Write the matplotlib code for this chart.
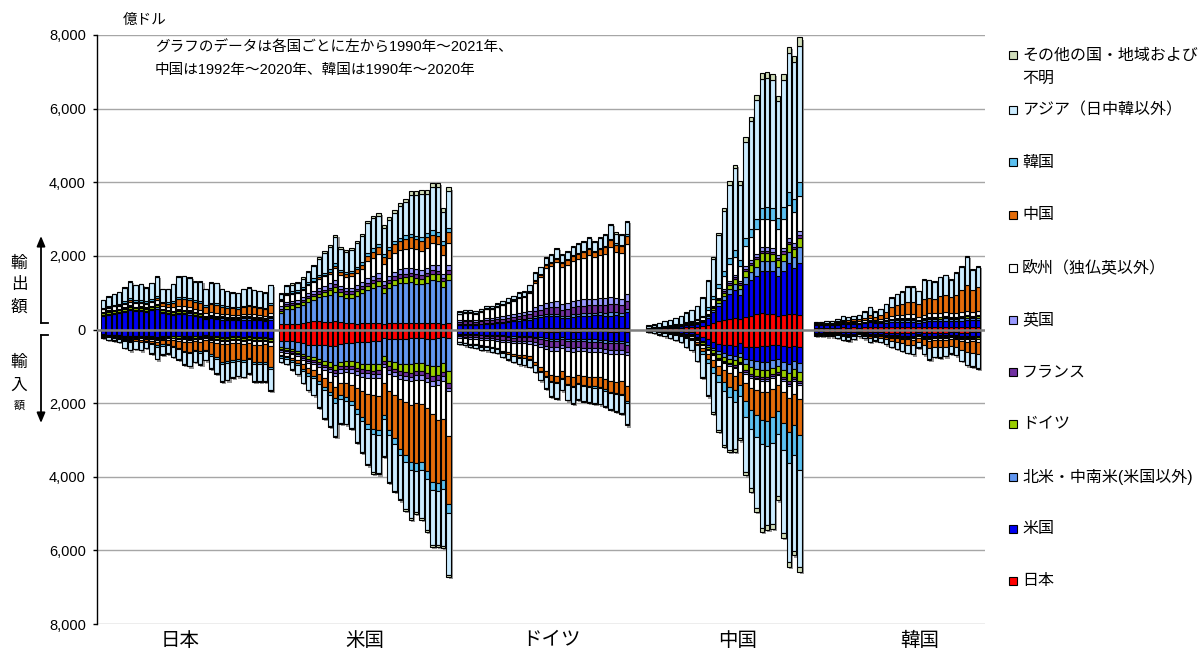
import numpy as np
import matplotlib
matplotlib.use("Agg")
import matplotlib.pyplot as plt
import matplotlib.patheffects as pe
from matplotlib.lines import Line2D
from matplotlib.patches import Rectangle

plt.rcParams["font.family"] = ["Liberation Sans", "Noto Sans CJK JP"]

W, H = 1199, 651

reporters = ["jp", "us", "de", "cn", "kr"]
reporter_names = ["日本", "米国", "ドイツ", "中国", "韓国"]
first_years = [1990, 1990, 1990, 1992, 1990]

partner_keys = ["jp", "us", "am", "de", "fr", "uk", "eu", "cn", "kr", "asia", "oth"]
partner_labels = ["日本", "米国", "北米・中南米(米国以外)", "ドイツ", "フランス", "英国",
                  "欧州（独仏英以外）", "中国", "韓国", "アジア（日中韓以外）",
                  "その他の国・地域および"]
partner_colors = ["#FF0000", "#0000F0", "#6196F0", "#99CC00", "#7030A0", "#9999FF",
                  "#FFFFFF", "#E46C0A", "#5BC0F0", "#CCECFF", "#D0DDBA"]

# 億ドル, x = exports, m = imports (partner order as above; own country omitted)
# Japan 1990-2021
jp_x_us = [370,400,420,440,480,520,490,500,480,520,560,440,420,400,420,410,400,360,340,280,300,280,270,260,250,250,270,270,260,250,230,270]
jp_x_am = [25,27,28,30,33,37,35,35,33,35,40,33,32,33,37,38,38,36,35,28,32,32,30,29,28,28,30,31,30,29,27,32]
jp_x_de = [45,50,52,50,52,58,52,50,48,50,55,45,42,45,50,48,45,40,38,30,35,35,32,30,30,28,30,32,32,30,28,32]
jp_x_fr = [15,17,18,17,18,20,18,18,17,18,20,17,16,17,18,18,17,16,15,12,13,13,12,12,11,11,12,12,12,11,10,12]
jp_x_uk = [22,24,25,24,26,28,26,26,25,26,28,22,20,21,22,22,21,20,18,15,16,16,15,14,14,14,14,15,14,13,12,14]
jp_x_eu = [70,78,82,80,85,95,88,88,85,90,105,85,80,85,100,100,98,92,90,70,78,78,68,66,65,62,68,72,70,66,62,75]
jp_x_cn = [8,10,15,20,30,40,38,40,35,45,60,70,95,130,170,185,190,185,190,180,210,215,190,185,175,170,185,200,190,185,190,230]
jp_x_kr = [30,32,35,38,42,48,45,45,38,45,55,45,45,50,55,55,55,50,48,40,48,48,42,40,38,37,40,42,40,38,36,42]
jp_x_asia = [217,254,280,318,368,450,405,423,374,423,509,332,339,444,560,564,540,497,522,434,538,535,430,409,389,382,440,461,415,423,405,490]
jp_x_oth = [12,13,13,14,15,16,15,15,14,15,16,14,14,15,16,17,17,16,16,14,15,15,14,13,13,13,14,14,13,13,13,15]

jp_m_us = [130,140,140,150,170,180,170,180,170,190,200,180,170,170,170,180,180,170,180,160,180,190,200,200,190,190,200,190,210,210,200,230]
jp_m_am = [10,11,12,13,15,16,15,16,15,17,19,17,16,17,18,20,21,20,21,18,22,24,27,26,25,24,25,24,26,26,25,29]
jp_m_de = [15,17,18,20,25,28,26,27,24,28,32,28,28,32,36,40,42,38,40,36,42,45,50,48,46,45,48,46,50,50,48,55]
jp_m_fr = [6,7,7,8,10,11,10,11,10,12,14,12,12,13,14,15,16,14,15,13,16,17,19,18,17,17,18,17,19,19,18,21]
jp_m_uk = [5,6,6,7,9,10,9,10,9,11,13,11,10,11,12,13,13,12,13,11,13,14,15,15,14,14,14,13,15,15,14,16]
jp_m_eu = [15,18,20,24,35,40,37,40,35,45,55,48,45,52,58,65,68,60,65,58,72,80,92,90,86,85,88,82,95,95,92,110]
jp_m_cn = [3,5,7,12,25,35,35,45,45,70,100,110,120,160,190,240,260,240,260,250,330,380,470,460,440,420,430,390,470,470,480,560]
jp_m_kr = [8,10,11,13,20,24,22,24,20,28,35,30,28,32,35,40,42,36,40,34,44,50,58,56,52,50,52,48,56,56,55,65]
jp_m_asia = [30,61,73,91,181,217,193,208,162,250,334,242,222,253,278,333,348,284,312,249,335,387,479,453,425,415,402,377,469,469,479,566]
jp_m_oth = [4,5,5,6,8,9,8,9,8,10,12,10,10,11,12,13,14,12,13,12,14,16,19,18,17,16,17,16,19,19,18,22]

# United States 1990-2021
us_x_jp = [136,145,150,160,180,215,220,220,200,210,225,195,175,165,160,165,165,165,170,140,165,175,185,180,170,165,165,170,175,170,160,170]
us_x_am = [300,400,420,440,480,540,590,650,700,740,800,710,690,700,760,820,900,950,1000,860,960,1030,1070,1090,1110,1080,1060,1100,1160,1150,990,1170]
us_x_de = [80,85,85,80,85,90,95,100,110,115,120,110,105,110,115,120,130,140,150,130,140,150,155,160,165,165,160,170,180,175,160,180]
us_x_fr = [50,55,55,50,55,60,62,65,70,75,80,72,65,65,70,72,75,80,85,75,80,85,85,88,90,88,85,90,95,95,80,92]
us_x_uk = [70,75,75,75,80,85,90,100,105,110,115,105,100,100,105,110,120,125,130,115,120,130,135,140,145,140,135,140,150,150,125,140]
us_x_eu = [150,180,185,185,190,210,220,240,260,270,330,300,290,300,330,360,460,490,520,460,480,510,520,530,540,540,540,550,580,580,520,600]
us_x_cn = [15,18,22,25,28,30,35,40,45,45,55,65,75,85,95,110,140,165,180,180,210,230,250,270,280,270,270,300,240,220,260,300]
us_x_kr = [40,45,45,45,55,70,75,72,50,65,80,65,65,70,75,80,85,90,95,80,90,95,95,100,105,100,100,105,110,105,100,110]
us_x_asia = [115,174,185,190,227,256,327,439,549,617,708,571,548,563,645,695,813,814,748,726,742,758,853,893,1050,1107,1175,1065,1181,1226,807,991]
us_x_oth = [30,35,35,35,40,45,50,55,55,60,65,60,58,58,60,65,70,75,80,75,80,85,90,95,100,100,100,100,110,110,100,110]

us_m_jp = [300,305,320,340,380,415,410,420,430,435,440,390,370,360,350,350,340,320,300,230,260,250,260,250,240,240,240,245,250,240,215,230]
us_m_am = [180,190,210,235,275,310,335,380,420,460,530,490,490,505,545,575,600,625,630,490,590,640,670,690,710,670,670,710,750,740,690,905]
us_m_de = [55,58,60,62,70,78,82,92,105,112,125,125,130,140,150,160,165,170,175,135,155,175,195,205,220,225,225,240,265,265,255,316]
us_m_fr = [30,32,35,36,40,44,46,52,58,65,75,72,70,75,80,85,90,95,100,82,88,95,100,105,110,110,110,115,125,135,115,140]
us_m_uk = [40,42,45,48,55,60,64,72,80,88,100,95,92,95,102,108,112,118,122,95,105,110,115,120,125,120,120,125,135,135,115,90]
us_m_eu = [80,85,95,105,125,145,160,190,225,260,300,290,300,325,370,405,440,460,480,410,480,520,560,600,640,640,660,700,760,950,1050,1220]
us_m_cn = [30,40,60,80,115,135,160,200,235,265,300,310,380,450,570,690,820,910,930,870,1050,1150,1350,1450,1560,1620,1580,1720,1850,1700,1650,1850]
us_m_kr = [50,52,55,55,62,68,70,72,78,95,115,105,105,110,125,125,130,130,135,120,140,160,170,180,200,210,205,210,220,230,230,230]
us_m_asia = [114,129,205,249,322,386,449,631,774,848,911,660,618,611,765,828,961,1053,1025,1000,1264,1275,1178,1285,1313,1122,1308,1383,1498,1456,1549,1677]
us_m_oth = [8,8,10,11,13,15,16,18,20,23,26,24,24,25,28,30,33,36,38,33,38,40,43,45,48,46,48,52,55,57,57,65]

# Germany 1990-2021
de_x_jp = [20,20,20,18,20,22,22,22,22,22,25,25,25,28,32,35,38,38,40,35,38,42,45,45,45,42,45,48,50,50,45,52]
de_x_us = [110,115,115,110,120,140,140,150,165,180,200,210,220,240,280,300,320,320,320,270,280,300,310,320,330,340,340,330,330,340,330,410]
de_x_am = [20,22,22,20,22,25,25,28,30,32,35,38,40,42,48,52,58,62,65,58,62,68,72,75,80,78,80,82,88,85,80,95]
de_x_fr = [60,62,62,58,62,72,70,75,80,85,90,95,98,110,140,150,170,180,190,180,190,200,200,205,210,200,210,215,230,215,205,230]
de_x_uk = [40,42,42,40,44,50,50,55,62,68,72,78,80,92,115,125,140,145,150,140,150,160,165,170,175,170,175,175,180,175,165,180]
de_x_eu = [170,190,195,185,210,245,245,270,300,330,360,400,410,480,660,770,950,990,1060,1010,1040,1090,1110,1140,1180,1130,1170,1210,1350,1250,1240,1350]
de_x_cn = [5,6,8,10,12,14,15,16,18,20,22,25,28,35,45,55,65,75,85,100,115,130,140,150,160,150,160,180,200,190,190,220]
de_x_kr = [8,8,9,9,10,12,12,12,10,12,14,14,15,18,22,25,28,30,32,28,32,35,35,36,38,36,38,40,42,40,38,45]
de_x_asia = [48,61,53,40,52,61,62,76,88,97,91,113,108,158,192,174,167,186,235,205,207,223,233,241,271,236,271,281,360,260,268,336]
de_x_oth = [8,8,8,8,9,10,10,11,12,13,14,15,16,18,22,24,27,28,30,28,30,32,33,34,35,34,35,36,38,37,36,40]

de_m_jp = [30,32,32,30,32,35,35,35,35,38,40,38,35,38,45,50,55,55,55,45,50,55,55,52,50,48,50,52,55,55,50,55]
de_m_us = [90,95,100,100,105,105,110,115,125,135,145,140,140,140,150,160,180,190,195,170,200,210,200,210,220,220,225,240,250,255,260,290]
de_m_am = [20,22,22,22,24,25,26,28,30,32,35,35,35,36,40,45,50,55,58,48,55,60,58,58,60,58,58,62,65,65,62,70]
de_m_fr = [50,55,60,62,68,70,72,75,82,85,88,92,95,100,115,130,150,165,170,150,170,175,165,170,170,170,170,175,180,180,175,190]
de_m_uk = [30,35,40,42,45,48,50,52,55,60,65,68,68,70,80,90,100,110,112,95,105,110,105,105,108,110,108,105,110,110,105,100]
de_m_eu = [110,125,140,145,160,165,180,185,250,270,290,320,330,345,440,540,600,660,670,620,670,690,650,670,670,680,690,710,730,750,760,840]
de_m_cn = [5,8,12,15,20,25,30,32,38,45,55,60,65,75,85,110,140,165,175,180,220,240,230,240,250,260,260,280,300,310,340,400]
de_m_kr = [5,6,6,7,8,8,9,9,10,12,14,14,15,16,18,22,25,28,28,25,30,32,30,32,32,34,35,36,38,38,38,42]
de_m_asia = [44,51,62,69,83,82,95,103,117,136,144,171,182,189,170,220,291,388,397,303,405,422,393,411,415,414,415,422,425,453,471,586]
de_m_oth = [5,5,6,6,7,7,8,8,9,10,11,12,12,13,15,17,19,21,22,20,22,24,23,24,24,24,25,26,27,28,28,32]

# China 1992-2020
cn_x_jp = [15,18,24,30,34,40,44,55,60,70,90,130,180,230,270,290,310,290,350,380,420,440,420,410,380,400,420,410,400]
cn_x_us = [10,13,18,24,28,35,40,55,65,80,110,190,300,420,540,680,760,660,880,960,1040,1150,1170,1180,1080,1200,1380,1250,1400]
cn_x_am = [3,4,5,6,7,8,9,11,13,16,22,35,55,75,100,130,160,140,190,220,250,270,270,260,240,260,300,300,450]
cn_x_de = [3,4,5,6,7,8,9,12,14,17,22,35,55,75,95,120,140,125,165,190,200,210,210,200,185,200,220,215,240]
cn_x_fr = [1,1,2,2,2,3,3,4,5,6,8,12,18,25,32,40,45,40,52,58,62,65,65,62,58,62,68,66,70]
cn_x_uk = [2,2,3,3,4,5,6,7,8,10,13,20,30,40,50,60,65,58,75,82,90,98,98,95,88,95,105,100,110]
cn_x_eu = [8,10,14,17,20,25,28,38,42,52,75,120,190,270,360,450,500,420,560,620,680,760,780,760,700,780,880,840,950]
cn_x_kr = [4,6,8,10,12,14,16,20,22,28,38,60,85,110,140,160,170,150,200,230,260,300,320,330,300,330,370,370,400]
cn_x_asia = [61,75,98,123,142,172,199,258,293,357,480,716,1005,1310,1640,2006,2228,2053,2633,2911,3222,3509,3496,3492,3180,3462,3768,3721,3694]
cn_x_oth = [2,3,4,5,6,7,8,10,12,15,20,30,45,60,75,90,100,90,115,130,145,155,155,150,140,150,170,165,220]

cn_m_jp = [12,16,22,30,36,44,52,70,80,130,200,270,330,390,420,430,440,380,470,480,470,460,450,420,410,440,470,450,470]
cn_m_us = [8,10,14,18,22,26,30,40,48,70,110,140,170,200,230,250,270,250,320,360,380,410,420,410,380,430,460,400,450]
cn_m_am = [3,4,5,7,8,10,12,16,20,28,40,55,70,85,100,110,130,120,160,190,210,220,220,210,190,220,250,230,240]
cn_m_de = [4,5,7,9,10,12,14,18,22,32,48,65,80,95,110,120,130,130,160,180,190,200,200,180,170,200,220,210,230]
cn_m_fr = [1,1,2,3,3,4,5,6,7,10,15,20,25,30,35,38,40,38,48,55,58,60,60,55,52,60,68,65,70]
cn_m_uk = [1,1,2,3,3,4,5,6,7,9,12,16,20,24,28,30,32,30,38,44,46,48,48,45,42,50,56,55,58]
cn_m_eu = [5,7,10,13,15,18,21,28,34,52,78,105,130,155,180,195,210,200,250,290,300,310,310,290,270,310,350,340,360]
cn_m_cn = [2,3,5,7,10,13,16,24,30,55,90,140,200,270,330,380,400,360,500,600,680,750,780,780,700,820,900,850,1000]
cn_m_kr = [3,4,6,8,10,12,15,22,28,45,75,110,150,190,230,280,320,300,420,500,580,650,680,700,620,750,850,820,950]
cn_m_asia = [31,47,60,88,104,131,167,240,283,412,619,862,1069,1292,1466,1427,1283,1135,1507,1616,1934,2272,2149,2205,1702,2254,2692,2584,2618]
cn_m_oth = [2,2,3,4,5,6,7,9,11,16,25,35,45,55,65,70,75,70,90,100,110,120,120,115,105,120,135,130,140]

# Korea 1990-2020
kr_x_jp = [40,40,40,40,45,55,50,55,45,55,65,55,55,60,65,65,65,65,70,60,70,80,75,72,70,60,60,65,65,60,55]
kr_x_us = [80,80,80,80,90,100,90,95,95,110,130,110,120,130,150,150,150,140,130,110,130,140,150,160,170,170,165,170,180,190,210]
kr_x_am = [8,9,9,10,12,14,14,16,17,20,25,22,24,28,35,40,45,50,55,48,55,60,60,62,65,62,60,65,70,65,60]
kr_x_de = [10,10,10,10,12,14,13,14,14,15,18,16,17,20,25,28,30,32,32,28,30,32,32,33,35,33,33,36,40,36,35]
kr_x_fr = [3,3,3,3,4,5,4,5,5,6,7,6,6,7,8,9,10,10,10,9,9,10,10,10,10,10,10,10,11,10,10]
kr_x_uk = [5,5,5,5,6,7,7,8,8,9,10,9,9,10,12,12,13,13,13,12,12,13,13,13,14,13,13,14,15,14,13]
kr_x_eu = [20,21,22,24,28,35,33,38,40,45,55,45,50,60,75,80,90,100,100,85,95,100,95,100,105,100,105,115,120,110,110]
kr_x_cn = [2,4,8,15,25,35,38,45,50,65,90,85,110,160,230,270,300,340,350,340,430,420,400,460,480,440,500,600,720,580,650]
kr_x_asia = [27,41,45,52,63,91,80,97,117,156,214,132,160,210,263,298,319,406,394,346,522,478,453,503,518,463,585,634,739,554,566]
kr_x_oth = [4,4,4,5,5,6,6,7,7,8,10,9,10,12,15,16,18,20,22,20,22,24,24,25,26,24,25,28,30,28,28]

kr_m_jp = [50,50,55,55,60,70,75,65,40,55,75,65,75,85,95,100,100,100,100,80,100,105,95,90,85,75,80,90,90,80,80]
kr_m_us = [40,40,42,42,45,55,58,52,40,45,55,48,52,55,60,62,65,68,70,55,65,72,70,72,72,70,72,80,90,95,100]
kr_m_am = [8,8,9,9,10,12,13,12,9,11,14,12,13,14,16,18,20,22,24,18,22,28,26,26,25,23,24,28,32,32,34]
kr_m_de = [8,8,9,9,10,12,13,12,9,10,13,12,13,15,17,18,20,22,23,18,22,26,26,27,27,25,27,30,32,32,33]
kr_m_fr = [3,3,3,3,4,5,5,5,3,4,5,5,5,6,7,7,8,8,8,7,8,9,9,9,9,8,9,10,11,11,11]
kr_m_uk = [3,3,3,3,4,4,4,4,3,3,4,4,4,5,5,5,6,6,6,5,6,6,6,6,6,5,6,7,7,7,7]
kr_m_eu = [10,10,12,12,14,18,20,18,13,16,22,20,22,26,30,34,38,42,45,35,45,55,50,52,52,48,52,60,66,68,72]
kr_m_cn = [3,3,5,6,10,14,16,18,15,20,35,35,45,60,80,100,120,140,150,110,160,200,190,200,200,190,200,240,290,310,330]
kr_m_asia = [35,36,49,48,65,85,90,71,54,75,115,93,109,134,161,181,201,223,241,160,239,308,266,274,244,204,223,299,342,370,383]
kr_m_oth = [3,3,3,3,4,5,5,5,4,5,6,5,6,7,8,9,10,11,12,10,12,14,13,13,13,12,13,15,17,17,18]


def fx(px):
    return px / W


def fy(py):
    return 1 - py / H


fig = plt.figure(figsize=(W / 100, H / 100), dpi=100)
ax = fig.add_axes([fx(97), 27 / H, 888 / W, 589 / H])

group_slots = 33
bar_w = 0.82
shadow = [pe.SimplePatchShadow(offset=(1.6, -1.6), shadow_rgbFace="#8c8c8c", alpha=0.9)]

for g, rep in enumerate(reporters):
    for d, sign in (("x", 1), ("m", -1)):
        series = [globals().get(f"{rep}_{d}_{k}") for k in partner_keys]
        n = len(next(s for s in series if s is not None))
        x = g * group_slots + (first_years[g] - 1990) + np.arange(n)
        total = np.zeros(n)
        for s in series:
            if s is not None:
                total += np.asarray(s, float)
        ax.bar(x, sign * total, bar_w, color="none", linewidth=0, zorder=1.5,
               path_effects=shadow)
        base = np.zeros(n)
        for s, col in zip(series, partner_colors):
            if s is None:
                continue
            v = np.asarray(s, float)
            ax.bar(x, sign * v, bar_w, bottom=sign * base, color=col,
                   edgecolor="black", linewidth=0.8, zorder=2)
            base += v

for v in range(-8000, 8001, 2000):
    if v != 0:
        ax.axhline(v, color="#a6a6a6", linewidth=1.0, zorder=0)
ax.axhline(0, color="#7f7f7f", linewidth=1.8, zorder=4)

ax.set_xlim(-1.11, 163.33)
ax.set_ylim(-8000, 8000)
ax.set_xticks([])
yt = list(range(-8000, 8001, 2000))
ax.set_yticks(yt)
ax.set_yticklabels([f"{abs(v):,}" for v in yt])
ax.tick_params(axis="y", length=3, width=1, labelsize=10.5, pad=5)
for side in ["top", "right", "bottom"]:
    ax.spines[side].set_visible(False)
ax.spines["left"].set_color("black")
ax.spines["left"].set_linewidth(1.0)

# category labels under each group
for name, cx in zip(reporter_names, [180, 365, 552, 738, 920]):
    fig.text(fx(cx), fy(641), name, fontsize=14, ha="center", va="center")

fig.text(fx(123), fy(20), "億ドル", fontsize=10.5, ha="left", va="center")
fig.text(fx(155), fy(47), "グラフのデータは各国ごとに左から1990年～2021年、",
         fontsize=10.5, ha="left", va="center")
fig.text(fx(155), fy(70), "中国は1992年～2020年、韓国は1990年～2020年",
         fontsize=10.5, ha="left", va="center")

# export / import side marks
for ch, yy in zip("輸出額", [263, 285, 307]):
    fig.text(fx(19), fy(yy), ch, fontsize=12, ha="center", va="center")
for ch, yy, fs in zip("輸入額", [362, 385, 406], [12, 12, 8]):
    fig.text(fx(19), fy(yy), ch, fontsize=fs, ha="center", va="center")

arrow = dict(arrowstyle="-|>,head_length=0.6,head_width=0.25", color="black",
             lw=1.3, shrinkA=0, shrinkB=0)
ax.annotate("", xy=(41, H - 236), xytext=(41, H - 323), xycoords="figure pixels",
            textcoords="figure pixels", arrowprops=arrow, annotation_clip=False)
ax.annotate("", xy=(41, H - 423), xytext=(41, H - 335), xycoords="figure pixels",
            textcoords="figure pixels", arrowprops=arrow, annotation_clip=False)
fig.add_artist(Line2D([fx(41), fx(48)], [fy(323), fy(323)], transform=fig.transFigure,
                      color="black", lw=1.3))
fig.add_artist(Line2D([fx(41), fx(48)], [fy(335), fy(335)], transform=fig.transFigure,
                      color="black", lw=1.3))

# legend, top to bottom
legend_y = [581, 529, 477, 424, 372, 320, 268, 215, 162, 110, 55]
for lab, col, yy in zip(partner_labels, partner_colors, legend_y):
    fig.add_artist(Rectangle((fx(1009), fy(yy + 4)), 8 / W, 8 / H,
                             transform=fig.transFigure, facecolor=col,
                             edgecolor="black", linewidth=0.8))
    fig.text(fx(1022), fy(yy), lab, fontsize=11.5, ha="left", va="center")
fig.text(fx(1022), fy(78), "不明", fontsize=11.5, ha="left", va="center")

fig.savefig("out.png", dpi=100, facecolor="white")
